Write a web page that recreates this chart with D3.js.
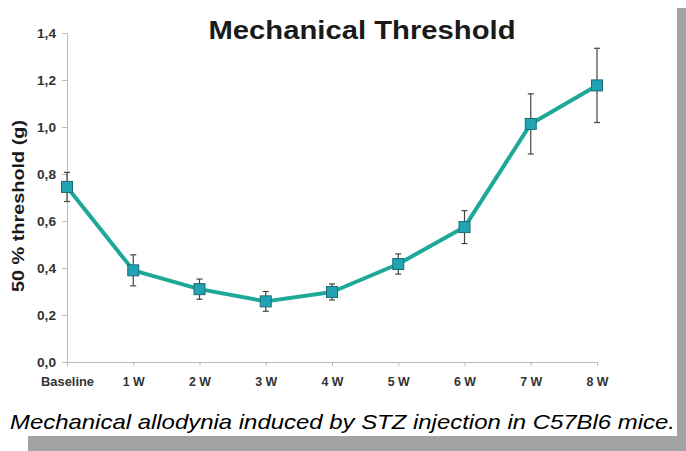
<!DOCTYPE html>
<html>
<head>
<meta charset="utf-8">
<script src="https://d3js.org/d3.v7.min.js"></script>
<style>
  body { margin: 0; background: #fff; }
  svg { display: block; }
</style>
</head>
<body>
<svg width="686" height="451"></svg>
<script>
  var weeks = ["Baseline", "1 W", "2 W", "3 W", "4 W", "5 W", "6 W", "7 W", "8 W"];
  var threshold = [0.745, 0.39, 0.31, 0.258, 0.298, 0.417, 0.574, 1.013, 1.177];
  var sem = [0.062, 0.066, 0.043, 0.042, 0.034, 0.043, 0.07, 0.128, 0.158];
  var yTicks = [0, 0.2, 0.4, 0.6, 0.8, 1.0, 1.2, 1.4];

  var svg = d3.select("svg");

  // drop shadow frame
  svg.append("rect").attr("x", 677).attr("y", 8).attr("width", 9).attr("height", 443).attr("fill", "#a3a3a3");
  svg.append("rect").attr("x", 28).attr("y", 436).attr("width", 658).attr("height", 15).attr("fill", "#a3a3a3");

  var x = d3.scalePoint().domain(weeks).range([67, 597]);
  var y = d3.scaleLinear().domain([0, 1.4]).range([362, 33]);

  var fmt = function(d) { return d3.format(".1f")(d).replace(".", ","); };

  var yAxis = svg.append("g")
      .attr("transform", "translate(67,0)")
      .call(d3.axisLeft(y).tickValues(yTicks).tickFormat(fmt).tickSize(5).tickPadding(6));
  yAxis.select(".domain").attr("stroke", "#bbb");
  yAxis.selectAll(".tick line").attr("stroke", "#bbb");
  yAxis.selectAll("text")
      .style("font-family", "Liberation Sans, Arial, sans-serif")
      .style("font-size", "13px").style("font-weight", "bold").attr("fill", "#333")
      .attr("textLength", 19).attr("lengthAdjust", "spacingAndGlyphs");

  var xAxis = svg.append("g")
      .attr("transform", "translate(0,362)")
      .call(d3.axisBottom(x).tickSize(4).tickPadding(11).tickSizeOuter(0));
  xAxis.select(".domain").attr("stroke", "#bbb");
  xAxis.selectAll(".tick line").attr("stroke", "#bbb");
  xAxis.selectAll("text")
      .style("font-family", "Liberation Sans, Arial, sans-serif")
      .style("font-size", "13px").style("font-weight", "bold").attr("fill", "#333")
      .attr("textLength", function(d) { return d === "Baseline" ? 53 : 22; })
      .attr("lengthAdjust", "spacingAndGlyphs");

  var pts = weeks.map(function(w, i) { return { w: w, v: threshold[i], e: sem[i] }; });

  // error bars
  var eb = svg.append("g").attr("stroke", "#444").attr("stroke-width", 1.2);
  eb.selectAll("line.v").data(pts).enter().append("line")
      .attr("x1", function(d) { return x(d.w); }).attr("x2", function(d) { return x(d.w); })
      .attr("y1", function(d) { return y(d.v + d.e); }).attr("y2", function(d) { return y(d.v - d.e); });
  eb.selectAll("line.t").data(pts).enter().append("line")
      .attr("x1", function(d) { return x(d.w) - 3; }).attr("x2", function(d) { return x(d.w) + 3; })
      .attr("y1", function(d) { return y(d.v + d.e); }).attr("y2", function(d) { return y(d.v + d.e); });
  eb.selectAll("line.b").data(pts).enter().append("line")
      .attr("x1", function(d) { return x(d.w) - 3; }).attr("x2", function(d) { return x(d.w) + 3; })
      .attr("y1", function(d) { return y(d.v - d.e); }).attr("y2", function(d) { return y(d.v - d.e); });

  var line = d3.line()
      .x(function(d) { return x(d.w); })
      .y(function(d) { return y(d.v); });

  svg.append("path")
      .datum(pts)
      .attr("d", line)
      .attr("fill", "none")
      .attr("stroke", "#1ea897")
      .attr("stroke-width", 4)
      .attr("stroke-linejoin", "round");

  svg.append("g").selectAll("rect").data(pts).enter().append("rect")
      .attr("x", function(d) { return x(d.w) - 5.5; })
      .attr("y", function(d) { return y(d.v) - 5.5; })
      .attr("width", 11).attr("height", 11)
      .attr("fill", "#22a3b3")
      .attr("stroke", "#1b6d78").attr("stroke-width", 1);

  svg.append("text")
      .attr("x", 362).attr("y", 39)
      .attr("text-anchor", "middle")
      .style("font-family", "Liberation Sans, Arial, sans-serif")
      .style("font-size", "26px").style("font-weight", "bold")
      .attr("fill", "#1a1a1a")
      .attr("textLength", 307).attr("lengthAdjust", "spacingAndGlyphs")
      .text("Mechanical Threshold");

  svg.append("text")
      .attr("transform", "translate(24,206)rotate(-90)")
      .attr("text-anchor", "middle")
      .style("font-family", "Liberation Sans, Arial, sans-serif")
      .style("font-size", "16px").style("font-weight", "bold")
      .attr("fill", "#1a1a1a")
      .attr("textLength", 172).attr("lengthAdjust", "spacingAndGlyphs")
      .text("50 % threshold (g)");

  svg.append("text")
      .attr("x", 10).attr("y", 429)
      .style("font-family", "Liberation Sans, Arial, sans-serif")
      .style("font-size", "21px").style("font-style", "italic")
      .attr("fill", "#000")
      .attr("textLength", 665).attr("lengthAdjust", "spacingAndGlyphs")
      .text("Mechanical allodynia induced by STZ injection in C57Bl6 mice.");
</script>
</body>
</html>
